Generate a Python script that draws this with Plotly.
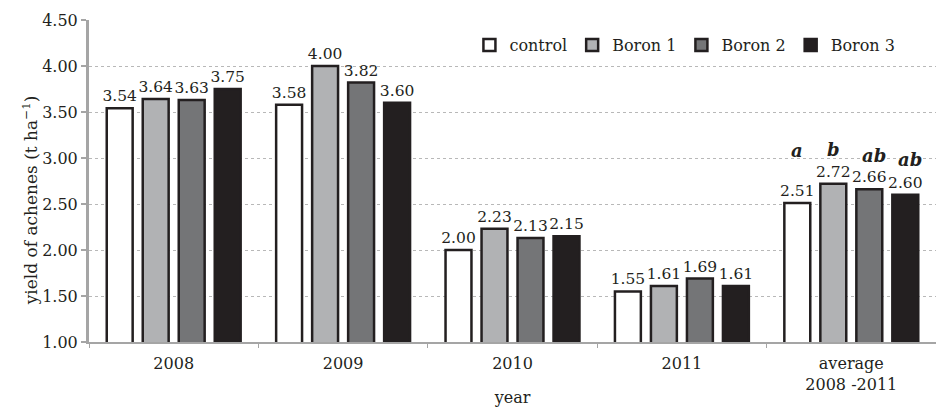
import plotly.graph_objects as go

years = ["2008", "2009", "2010", "2011", "average<br>2008 -2011"]
series_names = ["control", "Boron 1", "Boron 2", "Boron 3"]
control = [3.54, 3.58, 2.00, 1.55, 2.51]
boron1 = [3.64, 4.00, 2.23, 1.61, 2.72]
boron2 = [3.63, 3.82, 2.13, 1.69, 2.66]
boron3 = [3.75, 3.60, 2.15, 1.61, 2.60]
avg_letters = ["a", "b", "ab", "ab"]
y_ticks = [1.0, 1.5, 2.0, 2.5, 3.0, 3.5, 4.0, 4.5]

fills = ["#ffffff", "#b1b2b4", "#747577", "#231f20"]
serif = "DejaVu Serif"
ink = "#231f20"
axis_grey = "#a5a5a5"

fig = go.Figure()
for name, vals, fill in zip(series_names, [control, boron1, boron2, boron3], fills):
    fig.add_trace(go.Bar(
        name=name, x=years, y=vals,
        marker=dict(color=fill, line=dict(color=ink, width=2.5)),
        text=[f"{v:.2f}" for v in vals], textposition="outside",
        constraintext="none",
        textfont=dict(family=serif, size=15.5, color=ink),
        cliponaxis=False,
    ))

# significance letters above the averaged bars
all_vals = [control, boron1, boron2, boron3]
letter_lift = [40, 22, 21, 23]
letter_nudge = [0, 0, 5, 5]
slot_px = 36
for i, letter in enumerate(avg_letters):
    fig.add_annotation(
        x=years[-1], y=all_vals[i][-1], text=f"<b><i>{letter}</i></b>",
        showarrow=False, yanchor="bottom", yshift=letter_lift[i],
        xshift=(i - 1.5) * slot_px + letter_nudge[i],
        font=dict(family=serif, size=18, color=ink),
    )

# rotated y-axis title
fig.add_annotation(
    xref="paper", yref="paper", x=0, y=0.44, xshift=-59,
    xanchor="center", yanchor="middle",
    text="yield of achenes (t ha<sup>\u22121</sup>)", textangle=-90,
    showarrow=False, font=dict(family=serif, size=17, color=ink),
)

fig.update_layout(
    width=936, height=407,
    margin=dict(l=89, r=0, t=20, b=55),
    paper_bgcolor="white", plot_bgcolor="white",
    barmode="group", bargap=0.15, bargroupgap=0.28,
    font=dict(family=serif, size=16, color=ink),
    legend=dict(orientation="h", x=0.958, xanchor="right", y=0.975, yanchor="top",
                font=dict(family=serif, size=16, color=ink),
                bgcolor="rgba(0,0,0,0)", itemwidth=30, tracegroupgap=0),
    showlegend=True,
)
fig.update_yaxes(
    range=[1.0, 4.5], tickvals=y_ticks, ticktext=[f"{v:.2f}" for v in y_ticks],
    showgrid=True, gridcolor="#b8b8b8", griddash="dot", gridwidth=1,
    showline=True, linecolor=axis_grey, linewidth=3,
    ticks="outside", ticklen=5, tickcolor=axis_grey, tickwidth=2,
    tickfont=dict(family=serif, size=16, color=ink),
    zeroline=False,
)
fig.update_xaxes(
    showline=True, linecolor=axis_grey, linewidth=2,
    ticks="outside", tickson="boundaries", ticklen=4, tickcolor=axis_grey,
    ticklabelstandoff=6,
    tickfont=dict(family=serif, size=16, color=ink),
    title=dict(text="year", standoff=2, font=dict(family=serif, size=16, color=ink)),
)

fig.write_html("out.html")
